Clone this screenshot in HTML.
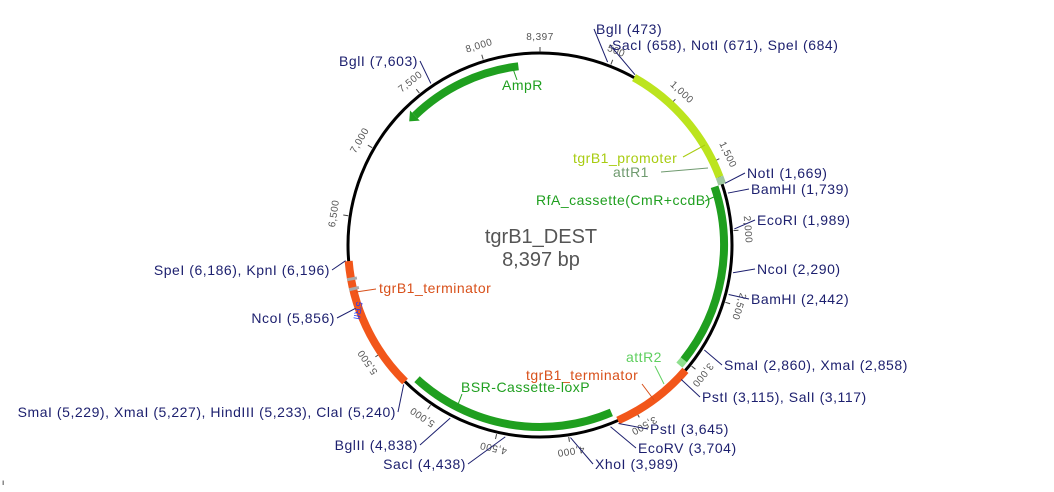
<!DOCTYPE html>
<html><head><meta charset="utf-8"><style>
body{margin:0;background:#fff;width:1054px;height:487px;overflow:hidden}
svg text{font-family:"Liberation Sans",sans-serif}
</style></head><body>
<svg id="map" width="1054" height="487" viewBox="0 0 1054 487" xmlns="http://www.w3.org/2000/svg">
<text x="541" y="243" text-anchor="middle" font-size="20" fill="#555">tgrB1_DEST</text>
<text x="541" y="266" text-anchor="middle" font-size="20" fill="#555">8,397 bp</text>
<text x="2" y="485" font-size="8" fill="#000">ı</text>
</svg>
<script>
const total = 8397;
const tickPositions = [500,1000,1500,2000,2500,3000,3500,4000,4500,5000,5500,6500,7000,7500,8000];
const featureNames = ["AmpR","tgrB1_promoter","attR1","RfA_cassette","attR2","tgrB1_terminator_a","BSR-Cassette-loxP","tgrB1_terminator_b"];
const featureStarts = [7370,684,1615,1669,3000,3050,3660,5240];
const featureEnds = [8236,1615,1669,3000,3050,3640,5190,6186];
const featureRing = [-12,0,0,-8,-8,0,-10,0];
const featureColors = ["#1f9f1f","#bce41e","#9fc89f","#1f9f1f","#8fe08f","#f2561a","#1f9f1f","#f2561a"];
const enzymeLabels = ["BglI (473)","SacI (658), NotI (671), SpeI (684)","NotI (1,669)","BamHI (1,739)","EcoRI (1,989)","NcoI (2,290)","BamHI (2,442)","SmaI (2,860), XmaI (2,858)","PstI (3,115), SalI (3,117)","PstI (3,645)","EcoRV (3,704)","XhoI (3,989)","SacI (4,438)","BglII (4,838)","SmaI (5,229), XmaI (5,227), HindIII (5,233), ClaI (5,240)","NcoI (5,856)","SpeI (6,186), KpnI (6,196)","BglI (7,603)"];
const enzymeSites = [473,680,1669,1739,1989,2290,2442,2859,3116,3645,3704,3989,4438,4838,5233,5856,6190,7603];
const labelX = [596,612,747,751,757,757,751,724,702,650,638,595,466,418,396,335,330,418];
const labelY = [34,50,178,194,225,274,304,370,402,434,453,469,469,450,417,323,275,66];
const labelAnchor = ["start","start","start","start","start","start","start","start","start","start","start","start","end","end","end","end","end","end"];

const svg = document.getElementById('map');
const NS = "http://www.w3.org/2000/svg";
const cx = 540, cy = 245, R = 192;
function ang(p){ return p/total*2*Math.PI; }
function pt(p,r){ const a=ang(p); return [cx + r*Math.sin(a), cy - r*Math.cos(a)]; }
function mk(tag, attrs){ const e=document.createElementNS(NS,tag); for(const k in attrs) e.setAttribute(k,attrs[k]); svg.appendChild(e); return e; }
function arcPath(p1,p2,r){ const a=pt(p1,r), b=pt(p2,r); const large=((p2-p1+total)%total)/total>0.5?1:0; return `M${a[0]},${a[1]} A${r},${r} 0 ${large} 1 ${b[0]},${b[1]}`; }

const bb = mk('circle',{cx:cx,cy:cy,r:R,fill:'none',stroke:'#000','stroke-width':3});



tickPositions.forEach(function(p){
  const a=pt(p,R+2), b=pt(p,R+7);
  const t = mk('line',{x1:a[0],y1:a[1],x2:b[0],y2:b[1],stroke:'#444','stroke-width':1});
  
  
  const c = pt(p,R+16); const deg = p/total*360;
  const lbl = mk('text',{x:c[0],y:c[1],'font-size':10,fill:'#555','text-anchor':'middle','dominant-baseline':'middle','letter-spacing':0.5,transform:`rotate(${deg} ${c[0]} ${c[1]})`});
  lbl.textContent = p.toLocaleString('en-US');
  
  
});
{ const c=pt(0,R+13);
  const l = mk('text',{x:c[0],y:c[1],'font-size':10,fill:'#555','text-anchor':'middle','letter-spacing':0.5}); l.textContent='8,397';
  
  
  const a=pt(0,R+1), b=pt(0,R+6);
  const t = mk('line',{x1:a[0],y1:a[1],x2:b[0],y2:b[1],stroke:'#444'});
  
  
}

featureNames.forEach(function(n,i){
  if(featureRing[i]<0){
    const w = mk('path',{d:arcPath(featureStarts[i],featureEnds[i],R-4),fill:'none',stroke:'#fff','stroke-width':3});
    
    
  }
});
featureNames.forEach(function(n,i){
  const f = mk('path',{d:arcPath(featureStarts[i],featureEnds[i],R+featureRing[i]),fill:'none',stroke:featureColors[i],'stroke-width':8});
  
  
});
{ const p=featureStarts[0], r=R+featureRing[0];
  const tip=pt(p-60,r), o=pt(p,r+7), inn=pt(p,r-7);
  const h = mk('polygon',{points:`${tip[0]},${tip[1]} ${o[0]},${o[1]} ${inn[0]},${inn[1]}`,fill:featureColors[0]});
  
  
}
// small grey marks on left terminator
[5990,6060].forEach(function(p,i){
  const a=pt(p,R-6), b=pt(p,R+4);
  const m = mk('line',{x1:a[0],y1:a[1],x2:b[0],y2:b[1],stroke:'#aaa','stroke-width':3});
  
  
});
{ const s = mk('text',{x:355,y:310,'font-size':9,fill:'#1a3aff','text-anchor':'middle',transform:'rotate(100 355 310)'});
  s.textContent='5\'Rfl';
  
  
}

const fl = [["AmpR",502,90,"#1f9f1f",517,80,512,66],["tgrB1_promoter",573,163,"#a8cc10",683,157,705,145],["attR1",613,177,"#6f9a6f",661,172,708,168],["RfA_cassette(CmR+ccdB)",536,205,"#1f9f1f",705,201,716,196],["tgrB1_terminator",379,293,"#d8501a",376,289,356,292],["attR2",626,362,"#5fcf5f",655,366,664,384],["tgrB1_terminator",526,380,"#d8501a",642,384,654,400],["BSR-Cassette-loxP",461,392,"#1f9f1f",462,394,457,407]];
fl.forEach(function(d,i){
  const t = mk('text',{x:d[1],y:d[2],'font-size':14,fill:d[3],'letter-spacing':0.5});
  t.textContent = d[0];
  
  
  const l = mk('line',{x1:d[4],y1:d[5],x2:d[6],y2:d[7],stroke:d[3],'stroke-width':1});
  
  
});

enzymeLabels.forEach(function(s,i){
  const t = mk('text',{x:labelX[i],y:labelY[i],'font-size':14,fill:'#1c1f6e','text-anchor':labelAnchor[i],'letter-spacing':0.55});
  t.textContent = s;
  
  
  const c = pt(enzymeSites[i],R+3);
  const lx = labelAnchor[i]==='start' ? labelX[i]-2 : labelX[i]+2;
  const ly = labelY[i]-5;
  const l = mk('line',{x1:lx,y1:ly,x2:c[0],y2:c[1],stroke:'#1c1f6e','stroke-width':1});
  
  
});
</script>
</body></html>
